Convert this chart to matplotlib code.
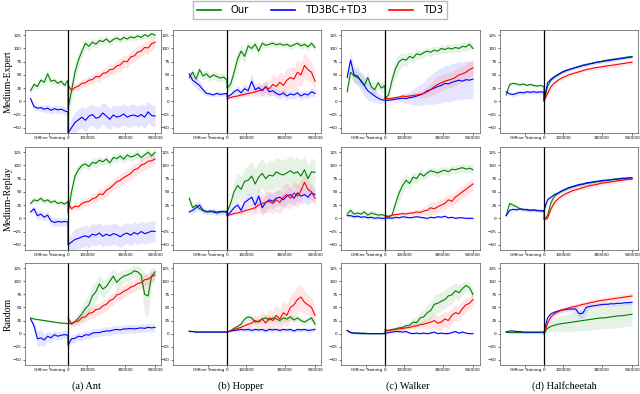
import numpy as np
import matplotlib.pyplot as plt
from matplotlib.lines import Line2D

# figure grid, in pixels of the 640x394 picture
W, H = 640, 394
col_px = [(25, 161), (173, 321), (341, 480), (500, 638)]
row_px = [(30, 133), (147, 250), (263, 365)]
col_xlim = [(-247000, 534000), (-307000, 534000), (-250000, 540000), (-250000, 534000)]
title_x = [86, 241, 408, 564]

# steps: 12 offline points, 26 online points
off_start = -215000
x_off = np.linspace(off_start, 0, 12)
x_on = np.linspace(0, 500000, 26)
xtick_pos = [off_start / 2, 0, 110000, 330000, 500000]
xtick_labels = ['Offline Training', '0', '100000', '300000', '500000']
yticks = [-50, -25, 0, 25, 50, 75, 100, 125]

envs = ['(a) Ant', '(b) Hopper', '(c) Walker', '(d) Halfcheetah']
datasets = ['Medium-Expert', 'Medium-Replay', 'Random']
names = ['Our', 'TD3BC+TD3', 'TD3']
colors = ['green', 'blue', 'red']

# ---------------- Medium-Expert ----------------
ant_me_our = [20, 32, 28, 40, 36, 52, 38, 40, 34, 38, 30, 40,
              -15, 20, 55, 78, 95, 110, 104, 112, 108, 115, 113, 118, 112, 117, 120, 116, 121, 118, 122, 120, 124, 121, 126, 123, 128, 125]
ant_me_our_sd = [5, 6, 6, 8, 6, 10, 6, 6, 5, 6, 6, 6,
                 20, 20, 18, 15, 12, 10, 10, 8, 8, 8, 7, 7, 7, 6, 6, 6, 6, 6, 6, 6, 6, 6, 6, 6, 6, 6]
ant_me_bc = [5, -10, -13, -12, -15, -13, -17, -14, -16, -15, -18, -20,
             -60, -50, -40, -35, -30, -36, -28, -25, -32, -30, -22, -28, -34, -26, -30, -28, -24, -30, -27, -26, -29, -25, -30, -20, -27, -28]
ant_me_bc_sd = [4, 6, 6, 6, 7, 7, 7, 7, 7, 7, 8, 8,
                10, 18, 20, 20, 20, 22, 20, 20, 22, 20, 20, 22, 20, 20, 22, 20, 20, 20, 22, 20, 20, 20, 22, 20, 20, 20]
ant_me_td3 = [30, 21, 26, 29, 34, 35, 40, 41, 47, 46, 53, 54, 60, 61, 67, 69, 76, 75, 84, 86, 93, 95, 102, 101, 109, 112]
ant_me_td3_sd = [5, 5, 6, 7, 8, 8, 9, 10, 10, 10, 10, 10, 10, 10, 12, 12, 12, 12, 12, 12, 12, 12, 12, 12, 12, 10]

hop_me_our = [45, 55, 42, 60, 48, 52, 45, 50, 47, 44, 46, 40,
              25, 32, 55, 80, 95, 85, 105, 100, 108, 95, 110, 106, 108, 110, 107, 109, 106, 108, 104, 107, 110, 105, 108, 103, 110, 102]
hop_me_our_sd = [6, 8, 8, 10, 8, 8, 8, 8, 8, 8, 8, 8,
                 8, 10, 15, 15, 12, 12, 8, 8, 8, 10, 6, 6, 6, 6, 6, 6, 6, 6, 6, 6, 6, 6, 6, 6, 6, 6]
hop_me_bc = [52, 40, 35, 30, 22, 15, 14, 12, 15, 13, 14, 15,
             8, 12, 18, 22, 16, 24, 20, 38, 22, 26, 20, 28, 18, 20, 15, 12, 16, 10, 14, 12, 16, 10, 14, 12, 18, 15]
hop_me_bc_sd = [8, 10, 10, 10, 8, 5, 4, 4, 4, 4, 4, 4,
                3, 5, 6, 8, 8, 10, 10, 15, 10, 10, 10, 10, 8, 8, 8, 8, 8, 8, 8, 8, 8, 8, 8, 8, 8, 8]
hop_me_td3 = [5, 7, 9, 10, 12, 13, 15, 16, 18, 20, 22, 26, 24, 32, 28, 36, 30, 40, 45, 42, 55, 50, 68, 60, 55, 38]
hop_me_td3_sd = [2, 3, 3, 4, 4, 5, 5, 6, 8, 10, 12, 15, 15, 20, 18, 20, 20, 22, 20, 22, 25, 22, 25, 22, 20, 18]

wal_me_our = [18, 55, 48, 45, 40, 30, 45, 28, 22, 35, 25, 30,
              5, 12, 40, 62, 75, 80, 78, 85, 82, 90, 88, 92, 95, 93, 97, 95, 100, 98, 101, 99, 102, 100, 104, 103, 108, 100]
wal_me_our_sd = [5, 10, 12, 12, 12, 12, 12, 12, 12, 10, 10, 10,
                 5, 8, 15, 18, 15, 12, 12, 10, 10, 10, 8, 8, 8, 8, 8, 8, 8, 8, 8, 8, 8, 8, 8, 8, 8, 8]
wal_me_bc = [45, 78, 50, 48, 38, 30, 20, 15, 10, 6, 3, 2,
             2, 2, 3, 4, 5, 6, 5, 7, 8, 10, 12, 15, 20, 22, 25, 28, 30, 34, 33, 36, 38, 40, 38, 41, 40, 42]
wal_me_bc_sd = [10, 15, 15, 18, 18, 20, 18, 15, 12, 10, 8, 5,
                3, 3, 4, 5, 6, 8, 10, 12, 15, 18, 20, 22, 25, 28, 30, 32, 33, 34, 35, 35, 35, 36, 36, 36, 36, 36]
wal_me_td3 = [5, 5, 6, 7, 8, 10, 9, 10, 11, 12, 13, 15, 18, 22, 28, 32, 35, 38, 40, 42, 45, 50, 52, 55, 60, 63]
wal_me_td3_sd = [2, 3, 3, 3, 4, 4, 4, 5, 5, 5, 6, 8, 10, 12, 14, 15, 15, 15, 15, 15, 15, 15, 15, 15, 15, 15]

hc_me_our = [12, 32, 34, 33, 31, 33, 30, 32, 30, 29, 30, 28,
             0, 28, 40, 46, 50, 54, 57, 60, 62, 64, 66, 68, 70, 71, 73, 74, 75, 77, 78, 79, 80, 81, 82, 83, 84, 85]
hc_me_our_sd = [3, 3, 3, 3, 3, 3, 3, 3, 3, 3, 3, 3,
                2, 5, 4, 3, 3, 3, 3, 3, 3, 3, 3, 3, 3, 3, 3, 3, 3, 3, 3, 3, 3, 3, 3, 3, 3, 3]
hc_me_bc = [18, 14, 13, 15, 17, 16, 18, 17, 18, 17, 18, 17,
            2, 35, 42, 47, 51, 55, 58, 60, 62, 64, 66, 68, 69, 71, 72, 74, 75, 76, 77, 78, 79, 80, 81, 82, 83, 84]
hc_me_bc_sd = [4, 4, 4, 4, 4, 4, 4, 4, 4, 4, 4, 4,
               2, 4, 3, 3, 3, 3, 3, 3, 3, 3, 3, 3, 3, 3, 3, 3, 3, 3, 3, 3, 3, 3, 3, 3, 3, 3]
hc_me_td3 = [0, 15, 28, 35, 40, 44, 47, 50, 52, 54, 56, 58, 60, 61, 63, 64, 65, 66, 67, 68, 69, 70, 71, 72, 73, 74]
hc_me_td3_sd = [2, 5, 5, 4, 4, 4, 4, 4, 4, 4, 4, 4, 4, 4, 4, 4, 4, 4, 4, 4, 4, 4, 4, 4, 4, 4]

# ---------------- Medium-Replay ----------------
ant_mr_our = [28, 35, 33, 38, 32, 35, 30, 33, 28, 30, 27, 32,
              10, 50, 80, 92, 100, 103, 98, 106, 104, 110, 107, 112, 105, 115, 113, 118, 112, 120, 116, 118, 122, 115, 120, 125, 118, 125]
ant_mr_our_sd = [5, 6, 5, 6, 5, 5, 5, 5, 5, 5, 5, 6,
                 8, 15, 12, 10, 8, 8, 8, 8, 8, 8, 8, 8, 8, 8, 8, 8, 8, 8, 8, 8, 8, 8, 8, 8, 8, 8]
ant_mr_bc = [12, 18, 5, 8, 2, 6, -5, -8, -6, -7, -6, -7,
             -50, -45, -40, -38, -35, -33, -36, -30, -32, -28, -34, -30, -33, -29, -31, -35, -30, -28, -32, -27, -30, -25, -29, -27, -24, -25]
ant_mr_bc_sd = [5, 6, 8, 8, 8, 8, 8, 8, 8, 8, 8, 8,
                10, 18, 20, 20, 20, 20, 20, 20, 20, 20, 20, 20, 20, 20, 20, 20, 20, 20, 20, 20, 20, 20, 20, 20, 20, 20]
ant_mr_td3 = [30, 18, 23, 22, 28, 31, 32, 37, 39, 46, 45, 53, 57, 63, 69, 72, 77, 81, 85, 92, 94, 101, 103, 108, 109, 112]
ant_mr_td3_sd = [5, 5, 6, 7, 8, 8, 9, 10, 10, 10, 10, 10, 10, 10, 12, 12, 12, 12, 12, 12, 12, 12, 12, 12, 12, 10]

hop_mr_our = [38, 20, 25, 18, 15, 13, 12, 14, 12, 13, 12, 14,
              12, 28, 50, 62, 55, 70, 72, 80, 65, 78, 85, 75, 82, 80, 88, 84, 82, 86, 90, 85, 88, 80, 92, 75, 88, 87]
hop_mr_our_sd = [8, 6, 5, 5, 5, 4, 4, 4, 4, 4, 4, 4,
                 5, 10, 20, 25, 25, 25, 28, 28, 28, 28, 28, 28, 28, 28, 28, 28, 28, 28, 28, 28, 28, 28, 28, 25, 25, 25]
hop_mr_bc = [12, 15, 20, 25, 15, 12, 14, 12, 10, 12, 13, 11,
             5, 12, 20, 25, 15, 30, 35, 40, 25, 42, 20, 30, 35, 32, 38, 40, 35, 42, 45, 38, 48, 42, 45, 40, 48, 45]
hop_mr_bc_sd = [4, 6, 8, 8, 6, 5, 5, 5, 5, 5, 5, 5,
                3, 6, 8, 10, 10, 12, 12, 12, 12, 15, 15, 15, 15, 15, 15, 15, 15, 15, 15, 15, 15, 15, 15, 15, 15, 15]
hop_mr_td3 = [5, 7, 9, 10, 12, 14, 16, 18, 20, 25, 28, 30, 32, 28, 35, 30, 40, 45, 38, 48, 42, 52, 68, 55, 50, 38]
hop_mr_td3_sd = [2, 3, 3, 4, 5, 6, 8, 10, 12, 15, 18, 20, 20, 20, 22, 22, 22, 22, 22, 22, 22, 20, 20, 18, 15, 15]

wal_mr_our = [8, 15, 8, 10, 8, 12, 6, 10, 8, 6, 7, 5,
              5, 2, 6, 28, 48, 62, 72, 66, 78, 75, 85, 80, 86, 90, 88, 86, 89, 91, 88, 93, 92, 94, 96, 93, 95, 92]
wal_mr_our_sd = [6, 8, 6, 5, 5, 5, 5, 5, 5, 4, 4, 4,
                 3, 3, 5, 10, 15, 15, 12, 12, 10, 10, 10, 8, 8, 8, 8, 8, 8, 8, 8, 8, 8, 8, 8, 8, 8, 8]
wal_mr_bc = [5, 5, 3, 4, 2, 3, 1, 2, 0, 1, 0, 0,
             0, 1, 0, 2, 1, 3, 2, 1, 2, 3, 2, 1, 0, 2, 1, 3, 2, 4, 1, 2, 0, 1, 1, 0, 0, 0]
wal_mr_bc_sd = [3, 3, 3, 3, 3, 3, 3, 3, 3, 3, 3, 3,
                2, 2, 2, 2, 2, 2, 2, 2, 2, 2, 2, 2, 2, 2, 2, 2, 2, 2, 2, 2, 2, 2, 2, 2, 2, 2]
wal_mr_td3 = [5, 4, 6, 7, 8, 9, 8, 10, 10, 12, 11, 14, 15, 20, 18, 22, 25, 28, 35, 32, 40, 45, 50, 55, 60, 65]
wal_mr_td3_sd = [2, 3, 3, 3, 3, 4, 4, 4, 5, 5, 6, 8, 10, 12, 12, 12, 12, 12, 12, 12, 12, 12, 12, 12, 12, 12]

hc_mr_our = [5, 28, 25, 22, 18, 16, 17, 15, 16, 14, 15, 13,
             -2, 5, 30, 42, 47, 51, 54, 57, 59, 61, 63, 64, 66, 67, 68, 69, 70, 71, 72, 73, 74, 75, 76, 76, 77, 77]
hc_mr_our_sd = [4, 5, 4, 3, 3, 3, 3, 3, 3, 3, 3, 3,
                3, 5, 6, 4, 3, 3, 3, 3, 3, 3, 3, 3, 3, 3, 3, 3, 3, 3, 3, 3, 3, 3, 3, 3, 3, 3]
hc_mr_bc = [5, 15, 17, 16, 18, 17, 16, 15, 16, 15, 14, 14,
            15, 35, 40, 45, 48, 52, 55, 58, 60, 62, 64, 65, 67, 68, 69, 70, 71, 72, 72, 73, 74, 74, 75, 75, 76, 76]
hc_mr_bc_sd = [3, 3, 3, 3, 3, 3, 3, 3, 3, 3, 3, 3,
               3, 5, 4, 3, 3, 3, 3, 3, 3, 3, 3, 3, 3, 3, 3, 3, 3, 3, 3, 3, 3, 3, 3, 3, 3, 3]
hc_mr_td3 = [-2, 0, 18, 30, 37, 42, 46, 49, 52, 54, 56, 58, 60, 62, 63, 64, 66, 67, 68, 69, 70, 71, 72, 73, 74, 74]
hc_mr_td3_sd = [3, 3, 6, 5, 4, 4, 4, 4, 4, 4, 4, 4, 4, 4, 4, 4, 4, 4, 4, 4, 4, 4, 4, 4, 4, 4]

# ---------------- Random ----------------
ant_r_our = [30, 28, 27, 26, 25, 24, 23, 22, 21, 20, 20, 19,
             19, 20, 22, 30, 38, 48, 55, 72, 80, 95, 85, 90, 100, 110, 98, 105, 110, 112, 115, 120, 118, 112, 75, 72, 110, 118]
ant_r_our_sd = [2, 2, 2, 2, 2, 2, 2, 2, 2, 2, 2, 2,
                3, 5, 8, 10, 15, 18, 20, 20, 20, 18, 18, 15, 15, 15, 15, 15, 12, 12, 12, 12, 12, 15, 40, 40, 15, 10]
ant_r_bc = [28, 15, -10, -8, -12, -5, -8, -2, -5, -3, -2, -3,
            -22, -10, -9, -5, -6, -2, -3, 1, 2, 2, 4, 5, 5, 7, 8, 7, 9, 9, 10, 9, 10, 11, 10, 12, 11, 12]
ant_r_bc_sd = [3, 8, 15, 15, 12, 10, 10, 8, 8, 8, 8, 8,
               8, 8, 8, 8, 8, 8, 8, 8, 8, 8, 8, 8, 8, 8, 8, 8, 8, 8, 8, 8, 8, 8, 8, 8, 8, 8]
ant_r_td3 = [30, 18, 23, 24, 31, 32, 39, 40, 46, 47, 53, 56, 63, 66, 74, 76, 81, 84, 89, 91, 96, 97, 103, 104, 109, 112]
ant_r_td3_sd = [5, 5, 6, 8, 10, 10, 10, 12, 12, 12, 12, 12, 12, 12, 12, 12, 12, 12, 12, 12, 12, 12, 12, 12, 12, 10]

hop_r_our = [5, 4, 3, 3, 3, 3, 3, 3, 3, 3, 3, 3,
             3, 6, 10, 14, 18, 28, 32, 30, 22, 24, 28, 30, 26, 30, 28, 25, 30, 28, 32, 26, 30, 25, 22, 26, 30, 18]
hop_r_our_sd = [1, 1, 1, 1, 1, 1, 1, 1, 1, 1, 1, 1,
                1, 2, 3, 4, 5, 6, 6, 6, 6, 6, 6, 6, 6, 6, 6, 6, 6, 6, 6, 6, 6, 6, 6, 6, 6, 6]
hop_r_bc = [4, 4, 3, 3, 3, 3, 3, 3, 3, 3, 3, 3,
            3, 5, 6, 7, 8, 7, 8, 6, 8, 7, 8, 5, 8, 7, 8, 6, 8, 7, 8, 5, 8, 7, 8, 6, 7, 8]
hop_r_bc_sd = [1, 1, 1, 1, 1, 1, 1, 1, 1, 1, 1, 1,
               1, 2, 3, 3, 4, 4, 4, 4, 4, 4, 4, 4, 4, 4, 4, 4, 4, 4, 4, 4, 4, 4, 4, 4, 4, 4]
hop_r_td3 = [3, 5, 8, 10, 12, 15, 18, 20, 25, 22, 28, 20, 30, 25, 35, 28, 40, 35, 50, 55, 65, 70, 60, 55, 50, 35]
hop_r_td3_sd = [1, 2, 3, 4, 5, 6, 8, 10, 12, 12, 15, 15, 18, 18, 20, 20, 22, 22, 25, 25, 25, 25, 22, 20, 20, 18]

wal_r_our = [6, 2, 1, 1, 1, 1, 0, 0, 0, 0, 0, 1,
             5, 6, 8, 9, 11, 12, 15, 16, 22, 21, 30, 32, 40, 44, 56, 58, 62, 65, 72, 74, 82, 78, 86, 92, 88, 75]
wal_r_our_sd = [2, 2, 2, 2, 2, 2, 2, 2, 2, 2, 2, 2,
                2, 3, 3, 4, 5, 5, 6, 6, 8, 10, 12, 14, 15, 16, 18, 18, 18, 18, 18, 18, 15, 15, 12, 10, 10, 10]
wal_r_bc = [6, 2, 1, 1, 0, 0, 0, 0, 0, 0, 0, 0,
            0, 2, 3, 4, 4, 3, 4, 1, 0, 1, 0, 1, 0, 1, 3, 0, 1, 0, 0, 2, 4, 1, 3, 1, 0, 0]
wal_r_bc_sd = [2, 2, 2, 2, 2, 2, 2, 2, 2, 2, 2, 2,
               2, 2, 2, 2, 2, 2, 2, 2, 2, 2, 2, 2, 2, 2, 2, 2, 2, 2, 2, 2, 2, 2, 2, 2, 2, 2]
wal_r_td3 = [8, 6, 7, 8, 9, 10, 11, 12, 14, 15, 17, 18, 20, 22, 25, 20, 22, 28, 25, 35, 40, 38, 48, 55, 58, 65]
wal_r_td3_sd = [3, 3, 3, 4, 4, 4, 5, 5, 5, 6, 6, 8, 10, 12, 14, 14, 15, 15, 15, 15, 15, 15, 15, 14, 12, 12]

hc_r_our = [3, 2, 2, 2, 2, 2, 2, 2, 2, 2, 2, 2,
            2, 10, 14, 16, 18, 19, 20, 21, 22, 23, 24, 25, 26, 27, 28, 29, 30, 30, 31, 32, 33, 34, 34, 35, 36, 37]
hc_r_our_sd = [2, 2, 2, 2, 2, 2, 2, 2, 2, 2, 2, 2,
               2, 8, 10, 12, 14, 15, 16, 17, 18, 18, 19, 19, 20, 20, 20, 21, 21, 21, 21, 22, 22, 22, 22, 22, 22, 22]
hc_r_bc = [3, 5, 5, 4, 4, 3, 3, 3, 3, 3, 3, 3,
           3, 30, 38, 41, 43, 45, 46, 47, 47, 47, 38, 39, 50, 52, 53, 54, 55, 56, 56, 57, 57, 58, 58, 59, 59, 60]
hc_r_bc_sd = [2, 2, 2, 2, 2, 2, 2, 2, 2, 2, 2, 2,
              2, 5, 4, 4, 4, 4, 4, 4, 6, 8, 10, 10, 8, 5, 4, 4, 4, 4, 4, 4, 4, 4, 4, 4, 4, 4]
hc_r_td3 = [-2, 20, 32, 38, 42, 45, 47, 49, 51, 52, 54, 56, 57, 59, 60, 62, 63, 64, 65, 66, 67, 68, 69, 70, 71, 72]
hc_r_td3_sd = [2, 6, 5, 5, 5, 5, 5, 5, 5, 5, 5, 5, 5, 5, 5, 5, 5, 6, 6, 6, 6, 6, 6, 6, 6, 6]

panels = [
    [(ant_me_our, ant_me_our_sd, ant_me_bc, ant_me_bc_sd, ant_me_td3, ant_me_td3_sd),
     (hop_me_our, hop_me_our_sd, hop_me_bc, hop_me_bc_sd, hop_me_td3, hop_me_td3_sd),
     (wal_me_our, wal_me_our_sd, wal_me_bc, wal_me_bc_sd, wal_me_td3, wal_me_td3_sd),
     (hc_me_our, hc_me_our_sd, hc_me_bc, hc_me_bc_sd, hc_me_td3, hc_me_td3_sd)],
    [(ant_mr_our, ant_mr_our_sd, ant_mr_bc, ant_mr_bc_sd, ant_mr_td3, ant_mr_td3_sd),
     (hop_mr_our, hop_mr_our_sd, hop_mr_bc, hop_mr_bc_sd, hop_mr_td3, hop_mr_td3_sd),
     (wal_mr_our, wal_mr_our_sd, wal_mr_bc, wal_mr_bc_sd, wal_mr_td3, wal_mr_td3_sd),
     (hc_mr_our, hc_mr_our_sd, hc_mr_bc, hc_mr_bc_sd, hc_mr_td3, hc_mr_td3_sd)],
    [(ant_r_our, ant_r_our_sd, ant_r_bc, ant_r_bc_sd, ant_r_td3, ant_r_td3_sd),
     (hop_r_our, hop_r_our_sd, hop_r_bc, hop_r_bc_sd, hop_r_td3, hop_r_td3_sd),
     (wal_r_our, wal_r_our_sd, wal_r_bc, wal_r_bc_sd, wal_r_td3, wal_r_td3_sd),
     (hc_r_our, hc_r_our_sd, hc_r_bc, hc_r_bc_sd, hc_r_td3, hc_r_td3_sd)],
]

fig = plt.figure(figsize=(W / 100, H / 100), dpi=100)
x_all = np.concatenate([x_off, x_on])

for r in range(3):
    for c in range(4):
        our, our_sd, bc, bc_sd, td3, td3_sd = panels[r][c]
        left, right = col_px[c]
        top, bottom = row_px[r]
        ax = fig.add_axes([left / W, 1 - bottom / H, (right - left) / W, (bottom - top) / H])
        curves = [(x_all, our, our_sd), (x_all, bc, bc_sd), (x_on, td3, td3_sd)]
        for (x, m, s), col in zip(curves, colors):
            m = np.array(m, dtype=float)
            s = np.array(s, dtype=float)
            ax.fill_between(x, m - s, m + s, color=col, alpha=0.1, lw=0)
            ax.plot(x, m, color=col, lw=0.8)
        ax.axvline(0, color='black', lw=0.9)
        ax.set_xlim(col_xlim[c])
        ax.set_ylim(-60, 135)
        ax.set_xticks(xtick_pos)
        ax.set_xticklabels(xtick_labels)
        ax.set_yticks(yticks)
        ax.tick_params(labelsize=3, length=1.5, width=0.4, pad=1)
        for sp in ax.spines.values():
            sp.set_linewidth(0.5)
            sp.set_color('#555555')

for r in range(3):
    top, bottom = row_px[r]
    fig.text(8 / W, 1 - (top + bottom) / 2 / H, datasets[r], rotation=90,
             ha='center', va='center', fontsize=7, family='Liberation Serif')

for c in range(4):
    fig.text(title_x[c] / W, 1 - 386 / H, envs[c], ha='center', va='center',
             fontsize=7.5, family='Liberation Serif')

handles = [Line2D([], [], color=col, lw=1.2) for col in colors]
fig.legend(handles, names, loc='upper center', bbox_to_anchor=(320 / W, 1 - 1 / H),
           ncol=3, fontsize=7.2, fancybox=False, edgecolor='#aaaaaa',
           handlelength=2.4, handletextpad=1.0, columnspacing=2.2,
           borderaxespad=0, borderpad=0.4)

fig.savefig('out.png', dpi=100)
